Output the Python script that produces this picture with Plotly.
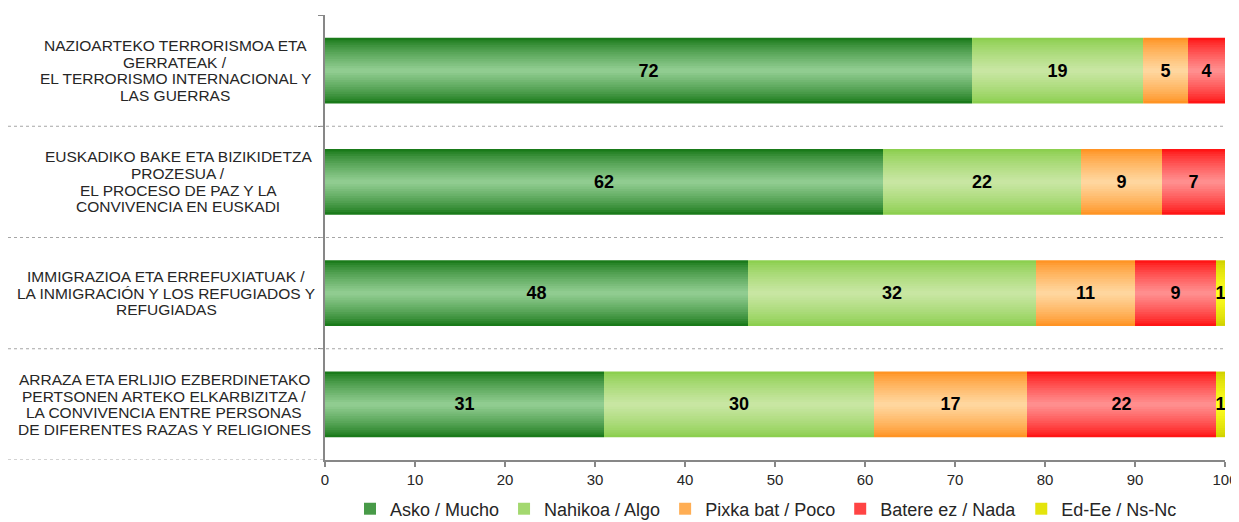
import plotly.graph_objects as go

# categories, top to bottom
categories = [
    "NAZIOARTEKO TERRORISMOA ETA<br>GERRATEAK /<br>EL TERRORISMO INTERNACIONAL Y<br>LAS GUERRAS",
    "EUSKADIKO BAKE ETA BIZIKIDETZA<br>PROZESUA /<br>EL PROCESO DE PAZ Y LA<br>CONVIVENCIA EN EUSKADI",
    "IMMIGRAZIOA ETA ERREFUXIATUAK /<br>LA INMIGRACIÓN Y LOS REFUGIADOS Y<br>REFUGIADAS",
    "ARRAZA ETA ERLIJIO EZBERDINETAKO<br>PERTSONEN ARTEKO ELKARBIZITZA /<br>LA CONVIVENCIA ENTRE PERSONAS<br>DE DIFERENTES RAZAS Y RELIGIONES",
]
series = ["Asko / Mucho", "Nahikoa / Algo", "Pixka bat / Poco", "Batere ez / Nada", "Ed-Ee / Ns-Nc"]

# bar lengths (as drawn) and the labels printed on them
asko = [71.9, 62, 47, 31]
nahikoa = [19, 22, 32, 30]
pixka = [5, 9, 11, 17]
batere = [4.1, 7, 9, 21]
nsnc = [0, 0, 1, 1]

asko_lbl = [72, 62, 48, 31]
nahikoa_lbl = [19, 22, 32, 30]
pixka_lbl = [5, 9, 11, 17]
batere_lbl = [4, 7, 9, 22]
nsnc_lbl = [None, None, 1, 1]

values = [asko, nahikoa, pixka, batere, nsnc]
labels = [asko_lbl, nahikoa_lbl, pixka_lbl, batere_lbl, nsnc_lbl]

# gradient colours: (edge, centre)
colors = [
    ("#1a7a1a", "#90cc90"),
    ("#8ccf4f", "#c8e6a2"),
    ("#ff9424", "#ffd69e"),
    ("#ff1515", "#ff8e8e"),
    ("#d2d200", "#ffff22"),
]

FONT = "Liberation Sans, Arial, sans-serif"
BAR_W = 0.59
N_LAYERS = 14

# the page body adds an 8px offset, so the figure is 8px smaller
W, H = 1231, 514
ML, MR, MT, MB = 317, 14, 7, 62
PW = W - ML - MR


def hex_rgb(h):
    h = h.lstrip("#")
    return [int(h[i:i + 2], 16) for i in (0, 2, 4)]


def mix(c1, c2, t):
    a, b = hex_rgb(c1), hex_rgb(c2)
    return "rgb(%d,%d,%d)" % tuple(round(a[i] + (b[i] - a[i]) * t) for i in range(3))


fig = go.Figure()

starts = [0, 0, 0, 0]
for s, name in enumerate(series):
    vals = values[s]
    base = list(starts)
    edge, centre = colors[s]
    for k in range(N_LAYERS):
        t = k / (N_LAYERS - 1)
        fig.add_trace(go.Bar(
            y=categories, x=vals, base=base, orientation="h",
            width=BAR_W * (1 - k / N_LAYERS),
            marker=dict(color=mix(edge, centre, t ** 0.8), line=dict(width=0)),
            name=name, legendgroup=name,
            showlegend=(k == 4), hoverinfo="skip",
        ))
    # transparent bar carrying the value label
    fig.add_trace(go.Bar(
        y=categories, x=vals, base=base, orientation="h", width=BAR_W,
        marker=dict(color="rgba(0,0,0,0)", line=dict(width=0)),
        text=["" if v is None else str(v) for v in labels[s]],
        textposition="inside", insidetextanchor="middle", textangle=0,
        constraintext="none",
        textfont=dict(family=FONT, size=18, color="#000000", weight="bold"),
        showlegend=False, hoverinfo="skip",
    ))
    starts = [starts[i] + vals[i] for i in range(len(vals))]

# category labels, one annotation per line (tight line spacing)
label_centre_px = [175, 178, 166, 164]  # window pixels
line_px = 16.7
for i, cat in enumerate(categories):
    lines = cat.split("<br>")
    n = len(lines)
    for j, ln in enumerate(lines):
        fig.add_annotation(
            x=(label_centre_px[i] - 325) / PW, xref="paper",
            y=cat, yref="y", text=ln, showarrow=False,
            xanchor="center", yanchor="middle",
            yshift=((n - 1) / 2 - j) * line_px,
            font=dict(family=FONT, size=15.5, color="#262626"),
        )

# dotted separators
sep_left = (8 - 325) / PW
for b in [0.5, 1.5, 2.5]:
    fig.add_shape(type="line", xref="paper", yref="y", x0=sep_left, x1=1, y0=b, y1=b,
                  line=dict(color="#a6a6a6", width=1, dash="dot"))
fig.add_shape(type="line", xref="paper", yref="y", x0=sep_left, x1=0, y0=3.5, y1=3.5,
              line=dict(color="#a6a6a6", width=1, dash="dot"))

fig.update_layout(
    width=W, height=H,
    margin=dict(l=ML, r=MR, t=MT, b=MB, autoexpand=False),
    barmode="overlay",
    plot_bgcolor="white", paper_bgcolor="white",
    font=dict(family=FONT, color="#262626"),
    legend=dict(orientation="h", x=0.49, xanchor="center",
                yref="container", y=13 / H, yanchor="middle",
                font=dict(family=FONT, size=18, color="#262626"), traceorder="normal"),
    xaxis=dict(range=[0, 100], dtick=10, showgrid=False, zeroline=False,
               showline=True, linecolor="#878787", linewidth=2,
               ticks="outside", ticklen=5, tickcolor="#878787", tickwidth=2,
               tickfont=dict(family=FONT, size=15, color="#262626"), automargin=False),
    yaxis=dict(type="category", categoryorder="array", categoryarray=categories,
               range=[3.5, -0.5], showgrid=False, zeroline=False,
               showline=True, linecolor="#878787", linewidth=2,
               ticks="outside", tickson="boundaries", ticklen=5, tickcolor="#878787",
               showticklabels=False, automargin=False),
)

fig.write_html("out.html")
